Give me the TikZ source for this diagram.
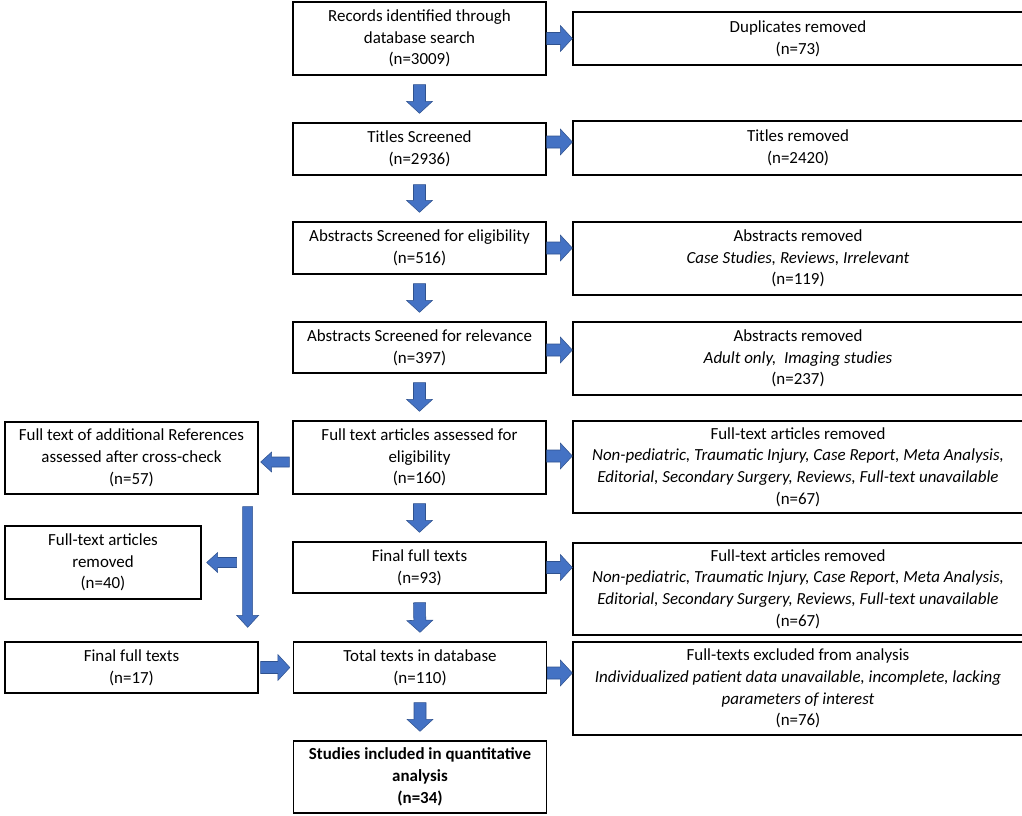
\documentclass[tikz,border=0pt]{standalone}
\usepackage{fontspec}
\setmainfont{Carlito}
\usetikzlibrary{calc}
\definecolor{arrowfill}{RGB}{68,114,196}
\definecolor{arrowedge}{RGB}{47,82,143}
\tikzset{
  box/.style={draw=black, line width=1pt, align=center, inner sep=0pt,
    font=\fontsize{12.7}{16.3}\selectfont},
  cbox/.style={box, minimum width=189.75pt},
  rbox/.style={box, minimum width=337.5pt},
  lbox/.style={box, minimum width=189.75pt},
  arrowsty/.style={fill=arrowfill, draw=arrowedge, line width=0.4pt, line join=miter},
}
% #1 start, #2 end, #3 half shaft, #4 half head, #5 head length
\newcommand\flowarrowx[5]{%
  \coordinate (fah) at ($(#2)!#5!(#1)$);
  \filldraw[arrowsty] ($(#1)!#3!90:(#2)$) -- ($(fah)!#3!90:(#2)$) -- ($(fah)!#4!90:(#2)$)
    -- (#2) -- ($(fah)!#4!-90:(#2)$) -- ($(fah)!#3!-90:(#2)$) -- ($(#1)!#3!-90:(#2)$) -- cycle;}
\newcommand\flowarrow[2]{\flowarrowx{#1}{#2}{4.5pt}{9.75pt}{9pt}}
\newcommand\flowarrowsm[2]{\flowarrowx{#1}{#2}{3.75pt}{7.5pt}{8.25pt}}
\begin{document}
\begin{tikzpicture}[x=0.75pt, y=-0.75pt]
\useasboundingbox (0,0) rectangle (1022,815);
% centre column
\node[cbox, minimum height=54.75pt] (rec) at (419.5,38.5) {Records identified through\\database search\\(n=3009)};
\node[cbox, minimum height=39pt] (tit) at (419.5,149) {Titles Screened\\(n=2936)};
\node[cbox, minimum height=39pt] (abe) at (419.5,248) {Abstracts Screened for eligibility\\(n=516)};
\node[cbox, minimum height=38.25pt] (abr) at (419.5,347.5) {Abstracts Screened for relevance\\(n=397)};
\node[cbox, minimum height=54.75pt] (fta) at (419.5,457.5) {Full text articles assessed for\\eligibility\\(n=160)};
\node[cbox, minimum height=38.25pt] (fin) at (419.5,567.5) {Final full texts\\(n=93)};
\node[cbox, minimum height=38.25pt] (tot) at (420,667.5) {Total texts in database\\(n=110)};
\node[cbox, minimum height=54pt, font=\fontsize{12.7}{16.3}\selectfont\bfseries] (stud) at (420,777) {Studies included in quantitative\\analysis\\(n=34)};
% right column
\node[rbox, minimum height=39.75pt] (dup) at (798,38.5) {Duplicates removed\\(n=73)};
\node[rbox, minimum height=40.5pt] (titr) at (798,148) {Titles removed\\(n=2420)};
\node[rbox, minimum height=54.75pt] (aber) at (798,258.5) {Abstracts removed\\\textit{Case Studies, Reviews, Irrelevant}\\(n=119)};
\node[rbox, minimum height=54.75pt] (abrr) at (798,358.5) {Abstracts removed\\\textit{Adult only,\ \ Imaging studies}\\(n=237)};
\node[rbox, minimum height=69pt] (ftar) at (798,467) {Full-text articles removed\\\textit{Non-pediatric, Traumatic Injury, Case Report, Meta Analysis,}\\\textit{Editorial, Secondary Surgery, Reviews, Full-text unavailable}\\(n=67)};
\node[rbox, minimum height=69pt] (finr) at (798,589) {Full-text articles removed\\\textit{Non-pediatric, Traumatic Injury, Case Report, Meta Analysis,}\\\textit{Editorial, Secondary Surgery, Reviews, Full-text unavailable}\\(n=67)};
\node[rbox, minimum height=69.75pt] (totr) at (798,688.5) {Full-texts excluded from analysis\\\textit{Individualized patient data unavailable, incomplete, lacking}\\\textit{parameters of interest}\\(n=76)};
% left column
\node[lbox, minimum height=54pt] (addl) at (131.5,458) {Full text of additional References\\assessed after cross-check\\(n=57)};
\node[box, minimum width=147pt, minimum height=54.75pt] (rm40) at (103,562.5) {Full-text articles\\removed\\(n=40)};
\node[lbox, minimum height=38.25pt] (fin17) at (131.5,667.5) {Final full texts\\(n=17)};
% down arrows
\coordinate (d1s) at ($(rec.south)+(0,9)$);  \coordinate (d1e) at ($(tit.north)+(0,-9)$);
\coordinate (d2s) at ($(tit.south)+(0,9)$);  \coordinate (d2e) at ($(abe.north)+(0,-9)$);
\coordinate (d3s) at ($(abe.south)+(0,9)$);  \coordinate (d3e) at ($(abr.north)+(0,-9)$);
\coordinate (d4s) at ($(abr.south)+(0,9)$);  \coordinate (d4e) at ($(fta.north)+(0,-9)$);
\coordinate (d5s) at ($(fta.south)+(0,9)$);  \coordinate (d5e) at ($(fin.north)+(0,-9)$);
\coordinate (d6s) at ($(fin.south)+(0,9)$);  \coordinate (d6e) at ($(tot.north)+(0,-9)$);
\coordinate (d7s) at ($(tot.south)+(0,9)$);  \coordinate (d7e) at ($(stud.north)+(0,-9)$);
\foreach \i in {1,...,7} {\flowarrow{d\i s}{d\i e}}
% right arrows
\coordinate (r1s) at (rec.east);              \coordinate (r1e) at (r1s -| dup.west);
\coordinate (r2s) at ($(tit.east)+(0,-7)$);   \coordinate (r2e) at (r2s -| titr.west);
\coordinate (r3s) at (abe.east);              \coordinate (r3e) at (r3s -| aber.west);
\coordinate (r4s) at ($(abr.east)+(0,2.5)$);  \coordinate (r4e) at (r4s -| abrr.west);
\coordinate (r5s) at ($(fta.east)+(0,-1.5)$); \coordinate (r5e) at (r5s -| ftar.west);
\coordinate (r6s) at (fin.east);              \coordinate (r6e) at (r6s -| finr.west);
\coordinate (r7s) at ($(tot.east)+(0,5.5)$);  \coordinate (r7e) at (r7s -| totr.west);
\foreach \i in {1,...,7} {\flowarrow{r\i s}{r\i e}}
% left side arrows
\coordinate (l1s) at ($(fta.west)+(-3,4.5)$);
\coordinate (l1e) at ($(l1s -| addl.east)+(2,0)$);
\flowarrowsm{l1s}{l1e}
\coordinate (lgs) at ($(addl.south east)+(-11,12)$);
\coordinate (lge) at ($(fin17.north east)+(-11,-14)$);
\flowarrowx{lgs}{lge}{3.75pt}{8.25pt}{9pt}
\coordinate (l2s) at ($(lgs |- rm40.east)+(-11,0)$);
\coordinate (l2e) at ($(rm40.east)+(5,0)$);
\flowarrowsm{l2s}{l2e}
\coordinate (l3s) at ($(fin17.east)+(2,0)$);
\coordinate (l3e) at ($(l3s -| tot.west)+(-3,0)$);
\flowarrow{l3s}{l3e}
\end{tikzpicture}
\end{document}
